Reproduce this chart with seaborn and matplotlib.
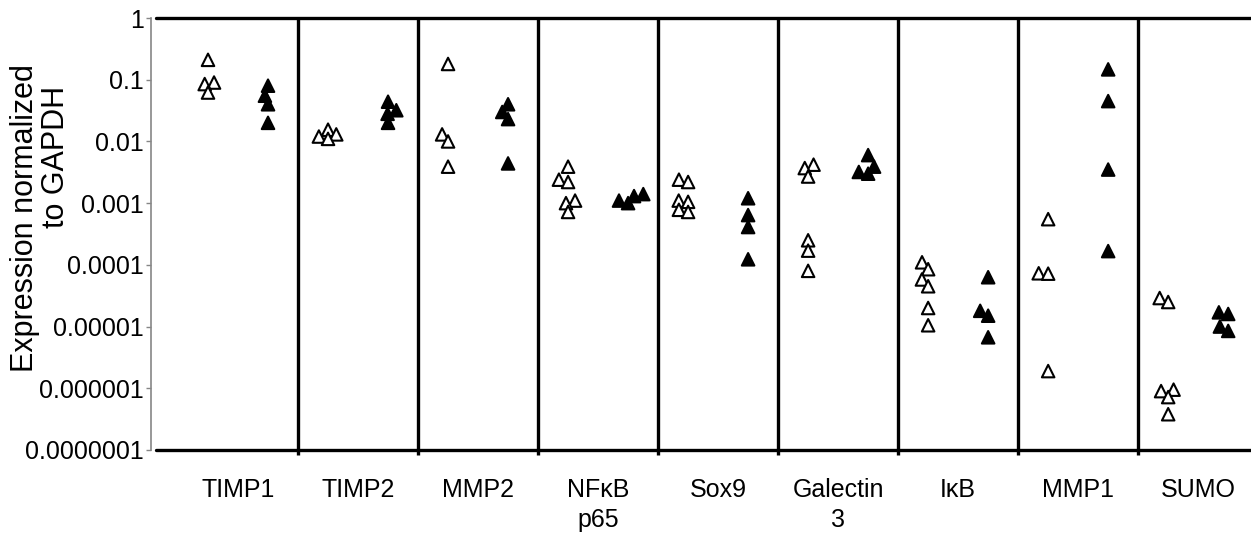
import numpy as np
import pandas as pd
import matplotlib
matplotlib.use("Agg")
import matplotlib.pyplot as plt
import matplotlib.transforms as mtransforms
from matplotlib.ticker import FixedLocator, FixedFormatter, NullLocator
import seaborn as sns

sns.set_theme(style="white")
plt.rcParams['font.family'] = ['Liberation Sans', 'DejaVu Sans']

# --- data ---
genes = ['TIMP1', 'TIMP2', 'MMP2', 'NFκB\np65', 'Sox9', 'Galectin\n3', 'IκB', 'MMP1', 'SUMO']

# open triangles
open_vals = [
    [0.21, 0.09, 0.085, 0.062],
    [0.0155, 0.013, 0.012, 0.011],
    [0.18, 0.013, 0.010, 0.0039],
    [0.0039, 0.0024, 0.0022, 0.0011, 0.001, 0.00072],
    [0.0024, 0.0022, 0.0011, 0.00105, 0.00078, 0.00072],
    [0.0042, 0.0037, 0.0027, 0.00025, 0.00017, 0.00008],
    [0.00011, 0.000085, 0.000058, 0.000045, 0.00002, 0.0000105],
    [0.00055, 0.000073, 0.000072, 0.0000019],
    [0.000029, 0.000025, 9.5e-7, 9e-7, 7.2e-7, 3.8e-7],
]
# filled triangles
filled_vals = [
    [0.08, 0.055, 0.04, 0.02],
    [0.044, 0.032, 0.028, 0.02],
    [0.04, 0.03, 0.023, 0.0044],
    [0.0014, 0.0013, 0.0011, 0.0010],
    [0.0012, 0.00064, 0.00041, 0.000123],
    [0.006, 0.0039, 0.0032, 0.003],
    [0.000063, 0.000018, 0.000015, 0.0000067],
    [0.147, 0.045, 0.0035, 0.000167],
    [0.000017, 0.000016, 0.00001, 0.0000085],
]

ytick_vals = [1e-7, 1e-6, 1e-5, 1e-4, 1e-3, 1e-2, 1e-1, 1]
ytick_labels = ['0.0000001', '0.000001', '0.00001', '0.0001', '0.001', '0.01', '0.1', '1']

rows = []
for g, ov, fv in zip(genes, open_vals, filled_vals):
    rows += [(g, 'open', v) for v in ov]
    rows += [(g, 'filled', v) for v in fv]
df = pd.DataFrame(rows, columns=['gene', 'group', 'value'])

# --- figure ---
fig = plt.figure(figsize=(12.51, 5.40), dpi=100)
ax = fig.add_axes([151 / 1251, 90 / 540, 1100 / 1251, 432 / 540])

# swarm with a small marker so points pack tightly, then enlarge them
sns.swarmplot(data=df, x='gene', y='value', hue='group', order=genes,
              hue_order=['open', 'filled'], dodge=True,
              palette={'open': 'white', 'filled': 'black'},
              marker='^', size=5, edgecolor='black', linewidth=1.5,
              log_scale=True, legend=False, ax=ax)

ax.set_ylim(1e-7, 1)
ax.set_xlim(-0.725, 8.44)
fig.canvas.draw()

for coll in ax.collections:
    if 'draw' in coll.__dict__:
        del coll.draw  # freeze the swarm layout
    offs = coll.get_offsets()
    if len(offs) == 0:
        continue
    coll.set_sizes([9 ** 2])
    # spread the two groups a bit further apart than the default dodge
    cx = float(np.mean(offs[:, 0]))
    side = np.sign(cx - round(cx))
    coll.set_offset_transform(mtransforms.Affine2D().translate(0.05 * side, 0) + ax.transData)

# separators and frame lines
seps = np.arange(len(genes) - 1) + 0.5
ax.vlines(seps, 1e-7, 1, color='black', lw=2.4, zorder=1)
ax.axhline(1, xmin=0.0045, color='black', lw=2.4, clip_on=False, zorder=1)
ax.axhline(1e-7, xmin=0.0045, color='black', lw=2.4, clip_on=False, zorder=1)

for s in ['top', 'right', 'bottom']:
    ax.spines[s].set_visible(False)
ax.spines['left'].set_color('#868686')
ax.spines['left'].set_linewidth(1.2)

ax.yaxis.set_major_locator(FixedLocator(ytick_vals))
ax.yaxis.set_major_formatter(FixedFormatter(ytick_labels))
ax.yaxis.set_minor_locator(NullLocator())
ax.tick_params(axis='y', which='major', direction='out', left=True, length=3.6,
               width=1, color='#868686', labelsize=18, pad=1.5, labelcolor='black')

ax.set_xticks(range(len(genes)))
ax.set_xticklabels(genes, linespacing=1.35)
ax.set_xticks(seps, minor=True)
ax.tick_params(axis='x', which='major', length=0, labelsize=18, pad=20, labelcolor='black')
ax.tick_params(axis='x', which='minor', bottom=True, direction='out', length=3.6,
               width=2.4, color='black')

ax.set_xlabel('')
ax.set_ylabel('')
ax.grid(False)

# y-axis title, two lines as in the original
fig.text(25 / 1251, 1 - 218 / 540, 'Expression normalized', rotation=90,
         ha='center', va='center', fontsize=22, color='black')
fig.text(56 / 1251, 1 - 157 / 540, 'to GAPDH', rotation=90,
         ha='center', va='center', fontsize=22, color='black')

fig.savefig('out.png', dpi=100)
